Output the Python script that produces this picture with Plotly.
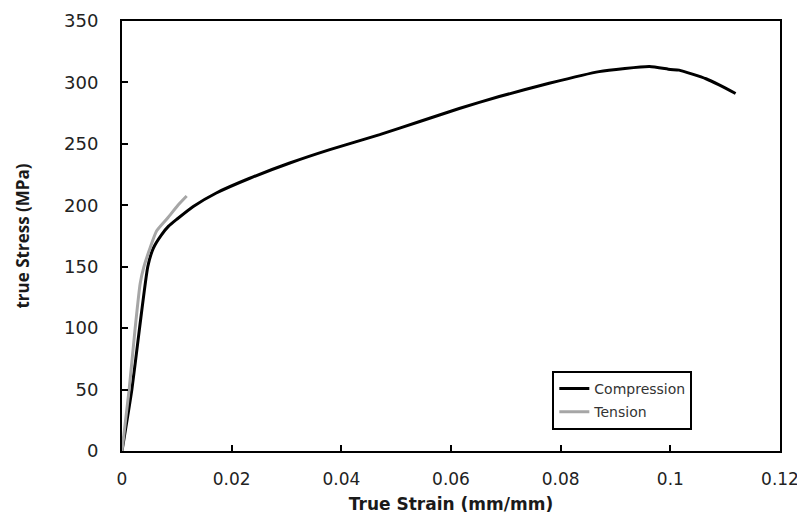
import plotly.graph_objects as go

comp_strain = [0, 0.0018, 0.0032, 0.0047, 0.0057, 0.0072, 0.0085, 0.0100, 0.0130, 0.0172,
               0.0233, 0.0306, 0.0379, 0.047, 0.0543, 0.0615, 0.0688, 0.0779, 0.087, 0.0962,
               0.1, 0.1016, 0.1065, 0.1089, 0.1119]
comp_stress = [0, 50, 100, 150, 165, 176, 183, 188.6, 199, 210,
               222, 234.4, 245.3, 257.5, 268.2, 278.8, 288.5, 299.3, 308.8, 313,
               310.5, 310, 303, 298, 291]

ten_strain = [0, 0.0013, 0.0024, 0.0033, 0.004, 0.0051, 0.0063, 0.0084, 0.0102, 0.0118]
ten_stress = [0, 50, 100, 136, 150, 165, 179, 190, 200, 207.5]

x_ticks = [0, 0.02, 0.04, 0.06, 0.08, 0.1, 0.12]
x_labels = ["0", "0.02", "0.04", "0.06", "0.08", "0.1", "0.12"]
y_ticks = [0, 50, 100, 150, 200, 250, 300, 350]
y_labels = ["0", "50", "100", "150", "200", "250", "300", "350"]

fig = go.Figure()
fig.add_trace(go.Scatter(x=comp_strain, y=comp_stress, mode="lines", name="Compression",
                         legendgroup="c",
                         line=dict(color="#000000", width=3, shape="spline", smoothing=0.5)))
fig.add_trace(go.Scatter(x=ten_strain, y=ten_stress, mode="lines", name="Tension",
                         legendgroup="t",
                         line=dict(color="#a6a6a6", width=3, shape="spline", smoothing=0.5)))

wide = "DejaVu Sans, sans-serif"
fig.update_layout(
    width=797, height=511,
    margin=dict(l=114, r=25, t=13, b=68),
    paper_bgcolor="white", plot_bgcolor="white",
    font=dict(family=wide, color="#222222"),
    showlegend=True,
    legend=dict(x=0.654, y=0.186, xanchor="left", yanchor="top",
                bordercolor="#000000", borderwidth=2, bgcolor="white",
                font=dict(size=14, color="#333333", family=wide), tracegroupgap=2,
                itemwidth=30),
    xaxis=dict(range=[0, 0.12], tickvals=x_ticks, ticktext=x_labels, automargin=False,
               showline=True, linecolor="#000000", linewidth=2, mirror=True,
               ticks="inside", ticklen=6, tickwidth=2, tickcolor="#000000",
               showgrid=False, zeroline=False,
               tickfont=dict(size=17, color="#222222", family=wide), ticklabelstandoff=12,
               title=dict(text="<b>True Strain (mm/mm)</b>",
                          font=dict(size=17, color="#1a1a1a", family=wide),
                          standoff=10)),
    yaxis=dict(range=[0, 350], tickvals=y_ticks, ticktext=y_labels, automargin=False,
               showline=True, linecolor="#000000", linewidth=2, mirror=True,
               ticks="inside", ticklen=6, tickwidth=2, tickcolor="#000000",
               showgrid=False, zeroline=False,
               tickfont=dict(size=18, color="#222222", family=wide), ticklabelstandoff=18,
               title=dict(text="<b>true Stress (MPa)</b>",
                          font=dict(size=17, color="#1a1a1a", family="Open Sans, sans-serif"),
                          standoff=30)),
)

fig.write_html("out.html")
